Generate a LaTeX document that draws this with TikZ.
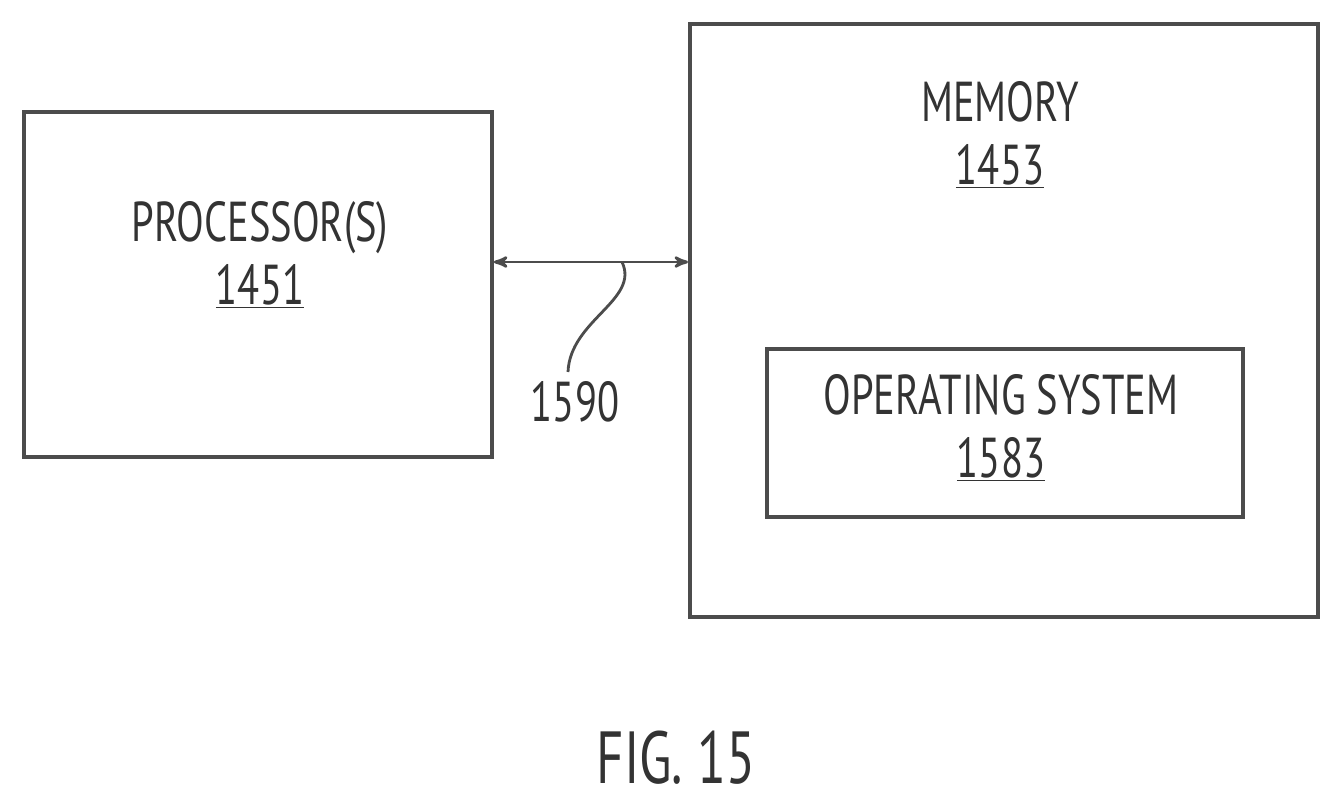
\documentclass[tikz,border=0pt]{standalone}
\usepackage{fontspec}
\usetikzlibrary{positioning, arrows}
\newfontfamily\figfont[FakeStretch=0.72]{PT Sans}
\tikzset{
>=stealth', % arrow heads
block/.style={draw=black!70, line width=2.2pt, inner sep=0pt}, % boxes
label/.style={font=\figfont\fontsize{32}{38}\selectfont, text=black!80, align=center}, % texts
}
\begin{document}
\begin{tikzpicture}[x=0.02cm, y=-0.02cm]
      \useasboundingbox (0,0) rectangle (1340,806);
      \node[block, minimum width=468*0.02cm, minimum height=345*0.02cm, anchor=north west] (proc) at (22,110) {};
      \node[block, minimum width=628*0.02cm, minimum height=593*0.02cm, anchor=north west] (mem) at (688,22) {};
      \node[block, minimum width=476*0.02cm, minimum height=168*0.02cm, anchor=north west] (os) at (765,347) {};

      \node[label] (proctext) at (260,255) {PROCESSOR(S)\\[-2pt]\underline{1451}};
      \node[label] (memtext) at (1000,135) {MEMORY\\[-2pt]\underline{1453}};
      \node[label] (ostext) at (1001,428) {OPERATING SYSTEM\\[-2pt]\underline{1583}};
      \node[label] (reflabel) at (575,402) {1590};
      \node[label, font=\figfont\fontsize{42}{48}\selectfont] (fig) at (676,758) {FIG. 15};

      \coordinate (tap) at (622,262);
      \draw[<->, >={stealth'[scale=1.6]}, draw=black!70, line width=1.6pt] (proc.east |- tap) -- (mem.west |- tap);
      \draw[draw=black!70, line width=1.6pt] (tap) .. controls (640,300) and (570,320) .. (568,372);
    \end{tikzpicture}
\end{document}
